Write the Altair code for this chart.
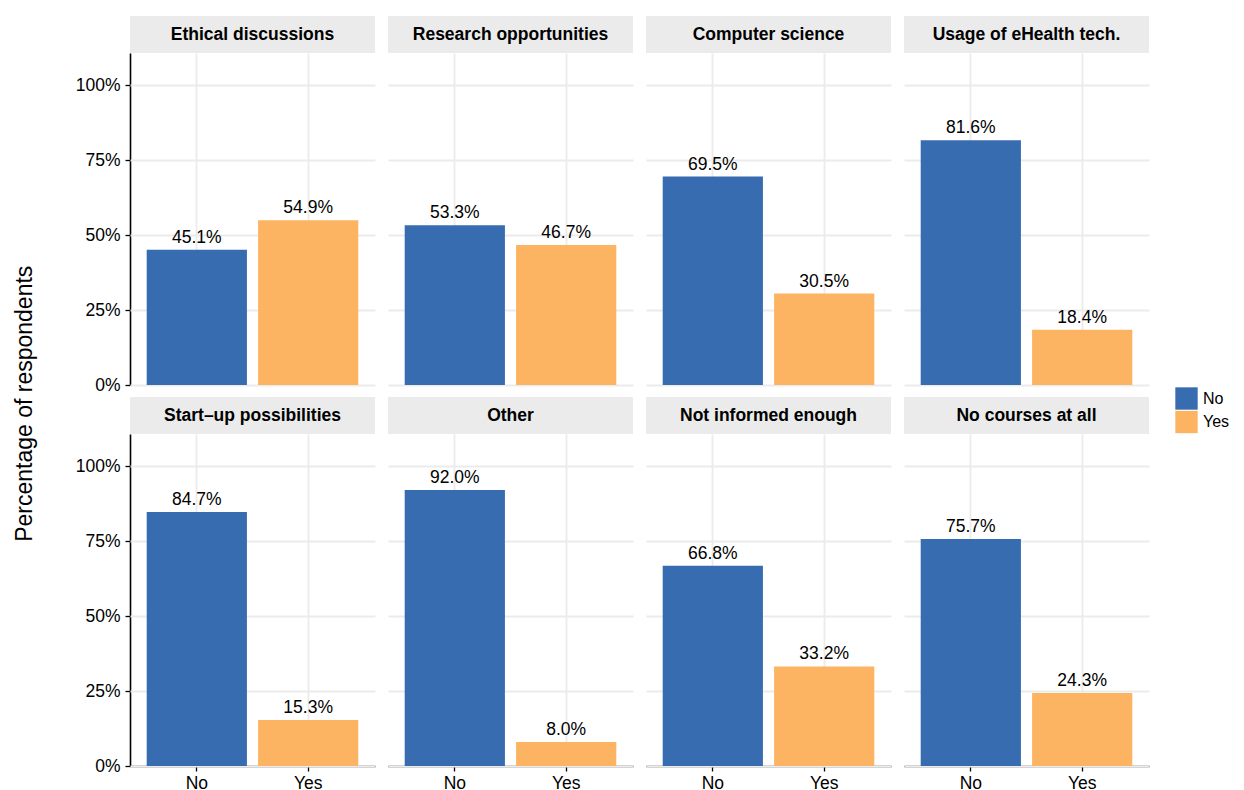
import altair as alt
import pandas as pd

categories = ["Ethical discussions", "Research opportunities", "Computer science",
              "Usage of eHealth tech.", "Start\u2013up possibilities", "Other",
              "Not informed enough", "No courses at all"]
no_vals = [45.1, 53.3, 69.5, 81.6, 84.7, 92.0, 66.8, 75.7]
yes_vals = [54.9, 46.7, 30.5, 18.4, 15.3, 8.0, 33.2, 24.3]
responses = ["No", "Yes"]
y_ticks = [0, 0.25, 0.5, 0.75, 1.0]

rows = []
for c, n, y in zip(categories, no_vals, yes_vals):
    rows.append({"cat": c, "resp": "No", "pct": n / 100})
    rows.append({"cat": c, "resp": "Yes", "pct": y / 100})
df = pd.DataFrame(rows)

W, H = 245, 332
FONT = "Liberation Sans"
FS = 17.5

xenc = alt.X("resp:N", title=None, sort=responses,
             scale=alt.Scale(paddingInner=0.1, paddingOuter=0.15),
             axis=alt.Axis(labelAngle=0, labelFontSize=FS, labelColor="black",
                           domainColor="black", domainWidth=1.6, tickColor="black",
                           tickWidth=1.3, tickSize=5, labelPadding=3,
                           grid=True, gridColor="#ebebeb", gridWidth=1.8))
yenc = alt.Y("pct:Q", title=None,
             scale=alt.Scale(domain=[0, 1.107], nice=False, zero=True),
             axis=alt.Axis(values=y_ticks, format=".0%", labelFontSize=FS,
                           labelColor="black", domainColor="black", domainWidth=1.6,
                           tickColor="black", tickWidth=1.3, tickSize=5, labelPadding=5,
                           gridColor="#ebebeb", gridWidth=1.8))

base = alt.Chart().properties(width=W, height=H)

strip = base.mark_rect(color="#ebebeb", clip=False).encode(
    x=alt.value(0), x2=alt.value(W), y=alt.value(-37), y2=alt.value(0)
).transform_filter(alt.datum.resp == "No")

strip_text = base.mark_text(fontSize=FS, fontWeight="bold", font=FONT, color="black",
                            baseline="middle").encode(
    x=alt.value(W / 2), y=alt.value(-18), text="cat:N"
).transform_filter(alt.datum.resp == "No")

bars = base.mark_bar().encode(
    x=xenc, y=yenc,
    color=alt.Color("resp:N", sort=responses,
                    scale=alt.Scale(domain=responses, range=["#386CB0", "#FDB462"]),
                    legend=alt.Legend(title=None, orient="none", legendX=1045,
                                      legendY=334, symbolType="square",
                                      symbolSize=500, symbolStrokeWidth=0,
                                      labelFontSize=16, labelFont=FONT,
                                      labelColor="black", rowPadding=0.5,
                                      labelOffset=5, symbolOpacity=1))
)

labels = base.mark_text(fontSize=FS, font=FONT, color="black", baseline="alphabetic",
                        dy=-7).encode(
    x=alt.X("resp:N", sort=responses), y="pct:Q", text=alt.Text("pct:Q", format=".1%")
)

chart = alt.layer(bars, labels, strip, strip_text, data=df).facet(
    facet=alt.Facet("cat:N", sort=categories,
                    header=alt.Header(title=None, labels=False, labelExpr="''",
                                      labelFontSize=0, labelPadding=0)),
    columns=4, spacing={"row": 12, "column": 13}
).properties(
    padding={"left": 6, "top": 8, "right": 0, "bottom": 0},
    title=alt.TitleParams("Percentage of respondents", orient="left", anchor="middle",
                          fontSize=23, fontWeight="normal", color="black", font=FONT,
                          offset=38)
).configure(font=FONT).configure_view(stroke=None, strokeWidth=0).configure_axis(
    labelFont=FONT, titleFont=FONT
)

chart.save("out.html", embed_options={"renderer": "svg", "actions": False})
